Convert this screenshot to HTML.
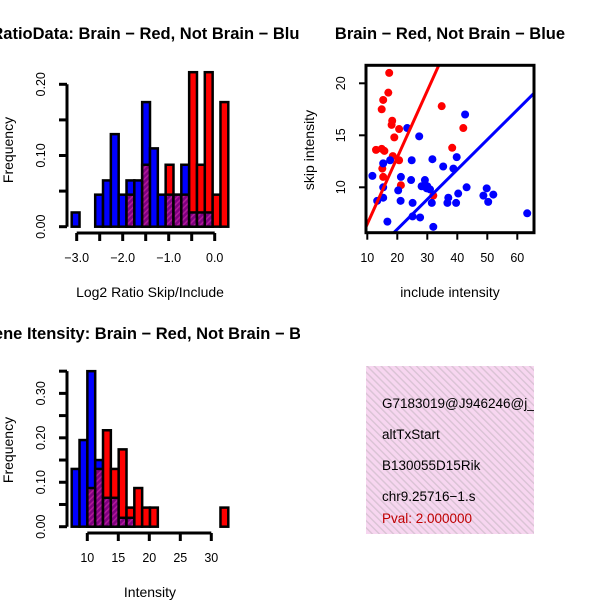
<!DOCTYPE html>
<html><head><meta charset="utf-8"><style>
html,body{margin:0;padding:0;background:#fff;}
svg{display:block;font-family:"Liberation Sans",Helvetica,Arial,sans-serif;}
</style></head><body>
<svg id="chart" width="600" height="600" viewBox="0 0 600 600" xmlns="http://www.w3.org/2000/svg">
<defs>
<pattern id="hatchP" width="4" height="4" patternUnits="userSpaceOnUse" patternTransform="rotate(45)">
<rect width="4" height="4" fill="#800080"/><rect width="1.5" height="4" fill="#b01a9a"/>
</pattern>
<pattern id="hatchBox" width="5" height="5" patternUnits="userSpaceOnUse" patternTransform="rotate(-45)">
<rect width="5" height="5" fill="#f7d6f0"/><rect width="1.4" height="5" fill="#d9c3d4"/>
</pattern>
<clipPath id="clipTL"><rect x="0" y="0" width="300" height="300"/></clipPath>
<clipPath id="clipBL"><rect x="0" y="300" width="300" height="300"/></clipPath>
<clipPath id="clipInfo"><rect x="366" y="366" width="168" height="168"/></clipPath>
</defs>
<g id="g-ratio" clip-path="url(#clipTL)"></g>
<g id="g-scatter"></g>
<g id="g-int" clip-path="url(#clipBL)"></g>
<g clip-path="url(#clipInfo)">
<rect x="366" y="366" width="168" height="168" fill="url(#hatchBox)"/>
<text x="382" y="408" font-size="13.5">G7183019@J946246@j_</text>
<text x="382" y="439" font-size="13.5">altTxStart</text>
<text x="382" y="470" font-size="13.5">B130055D15Rik</text>
<text x="382" y="501" font-size="13.5">chr9.25716−1.s</text>
<text x="382" y="523" font-size="13.5" fill="#c00000">Pval: 2.000000</text>
</g>
</svg>
<script>
// Ratio histogram data (20 bins)
const ratioBlue = [0.02,0,0,0.045,0.065,0.13,0.045,0.065,0.065,0.175,0.11,0.045,0.045,0.045,0.087,0.02,0.02,0.02,0,0];
const ratioRed  = [0,0,0,0,0,0,0,0.045,0,0.087,0,0,0.087,0.045,0.045,0.217,0.087,0.217,0.045,0.175];
const ratioTicks = [-3.0,-2.5,-2.0,-1.5,-1.0,-0.5,0.0];
const ratioTickLabels = ["-3.0","-2.0","-1.0","0.0"];
const ratioYTicks = [0,0.05,0.10,0.15,0.20];
const ratioYLabels = ["0.00","0.10","0.20"];
// Intensity histogram data (20 bins)
const intBlue = [0.13,0.195,0.35,0.15,0.065,0.065,0.02,0.02,0,0,0,0,0,0,0,0,0,0,0,0];
const intRed  = [0,0,0.087,0.13,0.217,0.13,0.174,0.043,0.087,0.043,0.043,0,0,0,0,0,0,0,0,0.043];
const intTicks = [10,15,20,25,30];
const intYTicks = [0,0.05,0.10,0.15,0.20,0.25,0.30,0.35];
const intYLabels = ["0.00","0.10","0.20","0.30"];
// Scatter data
const redX = [17.3,17.0,15.3,14.8,18.3,18.1,19.0,20.6,12.9,14.8,15.7,18.5,20.6,15.0,15.3,21.2,34.8,42.0,38.3,32.0];
const redY = [21.0,19.1,18.4,17.5,16.4,16.0,14.8,15.6,13.6,13.7,13.5,13.0,12.6,11.8,11.0,10.2,17.8,15.7,13.8,9.2];
const blueX = [11.7,15.3,17.6,23.3,27.3,24.8,31.7,35.3,39.8,38.7,42.6,21.2,24.6,29.2,28.1,29.8,30.9,20.3,15.3,15.3,13.3,21.1,25.1,31.5,37.0,36.7,39.6,40.3,43.1,49.8,48.7,50.3,52.0,25.1,27.6,16.7,32.0,63.3,30.0];
const blueY = [11.1,12.3,12.6,15.7,14.9,12.6,12.7,12.0,12.9,11.8,17.0,11.0,10.7,10.7,10.1,9.9,9.8,9.7,10.0,9.0,8.7,8.7,8.5,8.5,9.0,8.5,8.5,9.4,10.0,9.9,9.2,8.6,9.3,7.2,7.1,6.7,6.2,7.5,10.1];
const redFit = [0.64,0.08];   // slope, intercept
const blueFit = [0.287,0.23];
const scXTicks = [10,20,30,40,50,60];
const scYTicks = [10,15,20];

const NS="http://www.w3.org/2000/svg";
function mk(parent,tag,attrs,text){const e=document.createElementNS(NS,tag);for(const k in attrs)e.setAttribute(k,attrs[k]);if(text!==undefined)e.textContent=text;parent.appendChild(e);return e;}

function histogram(g,blue,red,yScale,x0,bw,baseY){
  for(let i=0;i<blue.length;i++){
    const b=blue[i],r=red[i],xl=x0+i*bw;
    const hi=Math.max(b,r),lo=Math.min(b,r);
    if(hi>0){
      const rc=mk(g,'rect',{x:xl,y:yScale(hi),width:bw,height:baseY-yScale(hi),fill:(r>=b?'#ff0000':'#0000ff'),stroke:'#000','stroke-width':2.5});
      
      
    }
    if(lo>0){
      const pc=mk(g,'rect',{x:xl,y:yScale(lo),width:bw,height:baseY-yScale(lo),fill:'url(#hatchP)',stroke:'#000','stroke-width':2.5});
      
      
    }
  }
}

// ---- Ratio histogram ----
(function(){
  const g=document.getElementById('g-ratio');
  const y=v=>226.7-v*712; const base=226.7;
  const x=v=>76.7+(v+3)*46;
  histogram(g,ratioBlue,ratioRed,y,71.7,7.83,base);
  mk(g,'line',{x1:67,y1:y(0),x2:67,y2:y(0.2),stroke:'#000','stroke-width':3});
  ratioYTicks.forEach(t=>mk(g,'line',{x1:59,y1:y(t),x2:67,y2:y(t),stroke:'#000','stroke-width':3}));
  ratioYLabels.forEach(l=>{const v=parseFloat(l);const t=mk(g,'text',{x:45,y:y(v),'font-size':12.5,'text-anchor':'middle',transform:`rotate(-90 45 ${y(v)})`},l);});
  mk(g,'line',{x1:x(-3),y1:233,x2:x(0),y2:233,stroke:'#000','stroke-width':3});
  ratioTicks.forEach(t=>mk(g,'line',{x1:x(t),y1:233,x2:x(t),y2:241,stroke:'#000','stroke-width':3}));
  ratioTickLabels.forEach(l=>{const t=mk(g,'text',{x:x(parseFloat(l)),y:262,'font-size':12.5,'text-anchor':'middle'},l.replace('-','−'));});
  let t=mk(g,'text',{x:150,y:297,'font-size':14,'text-anchor':'middle'},'Log2 Ratio Skip/Include');
  t=mk(g,'text',{x:13,y:150,'font-size':14,'text-anchor':'middle',transform:'rotate(-90 13 150)'},'Frequency');
  t=mk(g,'text',{x:150,y:39,'font-size':16.5,'font-weight':'bold','text-anchor':'middle'},'RatioData: Brain − Red, Not Brain − Blue');
})();

// ---- Intensity histogram ----
(function(){
  const g=document.getElementById('g-int');
  const y=v=>526.7-v*444.4; const base=526.7;
  const x=v=>87.3+(v-10)*6.2;
  histogram(g,intBlue,intRed,y,71.7,7.83,base);
  mk(g,'line',{x1:67,y1:y(0),x2:67,y2:y(0.35),stroke:'#000','stroke-width':3});
  intYTicks.forEach(t=>mk(g,'line',{x1:59,y1:y(t),x2:67,y2:y(t),stroke:'#000','stroke-width':3}));
  intYLabels.forEach(l=>{const v=parseFloat(l);const t=mk(g,'text',{x:45,y:y(v),'font-size':12.5,'text-anchor':'middle',transform:`rotate(-90 45 ${y(v)})`},l);});
  mk(g,'line',{x1:x(10),y1:533,x2:x(30),y2:533,stroke:'#000','stroke-width':3});
  intTicks.forEach(v=>{mk(g,'line',{x1:x(v),y1:533,x2:x(v),y2:541,stroke:'#000','stroke-width':3});const t=mk(g,'text',{x:x(v),y:562,'font-size':12.5,'text-anchor':'middle'},String(v));});
  let t=mk(g,'text',{x:150,y:597,'font-size':14,'text-anchor':'middle'},'Intensity');
  t=mk(g,'text',{x:13,y:450,'font-size':14,'text-anchor':'middle',transform:'rotate(-90 13 450)'},'Frequency');
  t=mk(g,'text',{x:153,y:339,'font-size':16.5,'font-weight':'bold','text-anchor':'middle'},'Gene Itensity: Brain − Red, Not Brain − Blue');
})();

// ---- Scatter ----
(function(){
  const g=document.getElementById('g-scatter');
  const x=v=>367.3+(v-10)*3; const y=v=>187.3-(v-10)*10.4;
  const L=366,R=534,T=65.3,B=232.7;
  mk(g,'clipPath',{id:'scClip'}); mk(g.lastChild,'rect',{x:L,y:T,width:R-L,height:B-T});
  const inner=mk(g,'g',{'clip-path':'url(#scClip)'});
  redX.forEach((v,i)=>{const c=mk(inner,'circle',{cx:x(v),cy:y(redY[i]),r:4,fill:'#ff0000'});});
  blueX.forEach((v,i)=>{const c=mk(inner,'circle',{cx:x(v),cy:y(blueY[i]),r:4,fill:'#0000ff'});});
  const xa=9,xb=70;
  let l=mk(inner,'line',{x1:x(xa),y1:y(redFit[0]*xa+redFit[1]),x2:x(xb),y2:y(redFit[0]*xb+redFit[1]),stroke:'#ff0000','stroke-width':3});
  l=mk(inner,'line',{x1:x(xa),y1:y(blueFit[0]*xa+blueFit[1]),x2:x(xb),y2:y(blueFit[0]*xb+blueFit[1]),stroke:'#0000ff','stroke-width':3});
  mk(g,'rect',{x:L,y:T,width:R-L,height:B-T,fill:'none',stroke:'#000','stroke-width':3});
  scXTicks.forEach(v=>{mk(g,'line',{x1:x(v),y1:B,x2:x(v),y2:B+7,stroke:'#000','stroke-width':2});const t=mk(g,'text',{x:x(v),y:262,'font-size':12.5,'text-anchor':'middle'},String(v));});
  scYTicks.forEach(v=>{mk(g,'line',{x1:L-7,y1:y(v),x2:L,y2:y(v),stroke:'#000','stroke-width':2});const t=mk(g,'text',{x:345,y:y(v),'font-size':12.5,'text-anchor':'middle',transform:`rotate(-90 345 ${y(v)})`},String(v));});
  let t=mk(g,'text',{x:450,y:297,'font-size':14,'text-anchor':'middle'},'include intensity');
  t=mk(g,'text',{x:314,y:150,'font-size':14,'text-anchor':'middle',transform:'rotate(-90 314 150)'},'skip intensity');
  t=mk(g,'text',{x:450,y:39,'font-size':16.5,'font-weight':'bold','text-anchor':'middle'},'Brain − Red, Not Brain − Blue');
})();
</script>
</body></html>
